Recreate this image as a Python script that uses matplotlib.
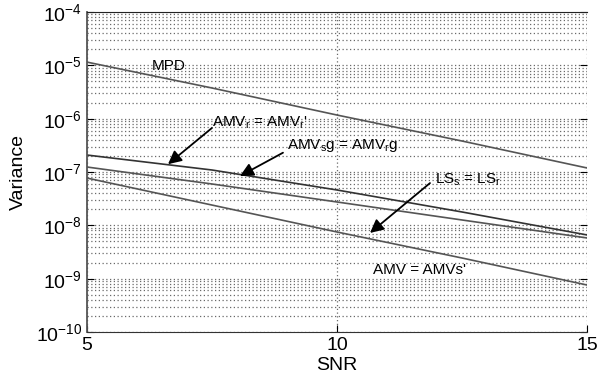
import numpy as np
import matplotlib
matplotlib.use('Agg')
import matplotlib.pyplot as plt

plt.rcParams['font.family'] = ['Liberation Sans', 'DejaVu Sans']
plt.rcParams['mathtext.fontset'] = 'custom'
plt.rcParams['mathtext.rm'] = 'Liberation Sans'
plt.rcParams['mathtext.it'] = 'Liberation Sans'

# values
snr = [5, 7.5, 10, 12.5, 15]
mpd = [1.15e-5, 3.76e-6, 1.17e-6, 3.81e-7, 1.19e-7]
amv_r = [2.08e-7, 1.09e-7, 4.6e-8, 1.78e-8, 6.6e-9]
amv_g = [1.24e-7, 5.96e-8, 2.74e-8, 1.26e-8, 5.8e-9]
amv_s = [7.7e-8, 2.4e-8, 7.5e-9, 2.44e-9, 7.6e-10]

fig = plt.figure(figsize=(6.1, 3.85), dpi=100)
ax = fig.add_axes([0.1426, 0.1377, 0.8197, 0.8311])

lc = '#555555'
ax.semilogy(snr, mpd, color=lc, lw=1.2)
ax.semilogy(snr, amv_r, color='#333333', lw=1.2)
ax.semilogy(snr, amv_g, color=lc, lw=1.2)
ax.semilogy(snr, amv_s, color=lc, lw=1.2)

ax.set_xlim(5, 15)
ax.set_ylim(1e-10, 1e-4)
ax.set_xticks([5, 10, 15])
ax.set_yticks([1e-10, 1e-9, 1e-8, 1e-7, 1e-6, 1e-5, 1e-4])
ax.grid(True, which='both', axis='y', linestyle=(0, (1, 2)), color='#6a6a6a', lw=0.9)
ax.grid(True, which='major', axis='x', linestyle=(0, (1, 2)), color='#6a6a6a', lw=0.9)
ax.tick_params(axis='both', which='major', direction='in', length=5, labelsize=14,
               right=True, top=False, width=0.8)
ax.tick_params(axis='y', which='minor', direction='in', length=0, right=True)
ax.tick_params(axis='x', which='minor', length=0)
ax.spines['right'].set_visible(False)
ax.spines['left'].set_color('#555555')
ax.spines['left'].set_linewidth(1.3)
ax.spines['bottom'].set_color('#333333')
ax.spines['top'].set_color('#222222')
ax.set_xlabel('SNR', fontsize=14, labelpad=2)
ax.set_ylabel('Variance', fontsize=14, labelpad=6)

fs = 11
ax.text(6.3, 9.8e-6, 'MPD', fontsize=fs, va='center')
ax.text(7.5, 8.3e-7, "AMV$_r$ = AMV$_{r}$'", fontsize=fs, va='center')
ax.text(9.0, 3.2e-7, r'AMV$_s$g = AMV$_r$g', fontsize=fs, va='center')
ax.text(11.96, 7.1e-8, r'LS$_s$ = LS$_r$', fontsize=fs, va='center')
ax.text(10.72, 1.45e-9, "AMV = AMVs'", fontsize=fs, va='center')

aprops = dict(arrowstyle='-|>', color='k', lw=1.3, mutation_scale=20, shrinkA=0, shrinkB=0)
ax.annotate('', xy=(6.62, 1.4e-7), xytext=(7.5, 6.7e-7), arrowprops=aprops)
ax.annotate('', xy=(8.06, 8.4e-8), xytext=(8.92, 2.3e-7), arrowprops=aprops)
ax.annotate('', xy=(10.66, 7.2e-9), xytext=(11.86, 6.2e-8), arrowprops=aprops)

fig.savefig('out.png', dpi=100)
